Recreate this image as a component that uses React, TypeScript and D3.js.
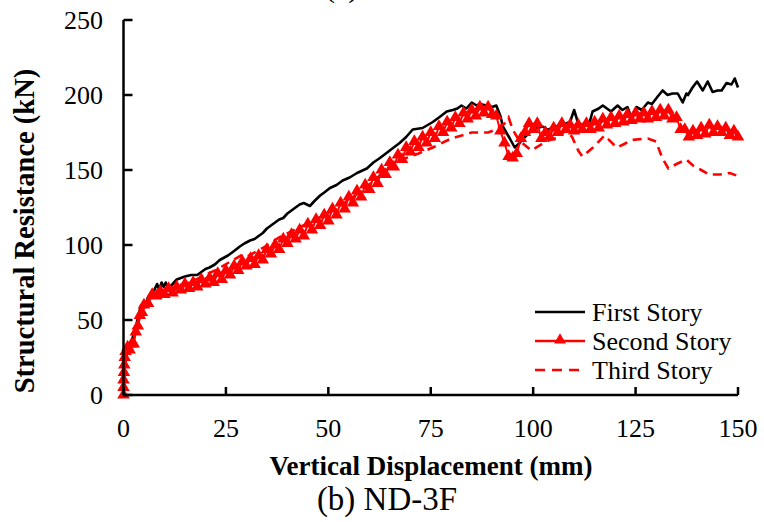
import React from "react";
import * as d3 from "d3";

const xTicks = [0, 25, 50, 75, 100, 125, 150];
const yTicks = [0, 50, 100, 150, 200, 250];

const seriesNames = ["First Story", "Second Story", "Third Story"];

const firstStory: [number, number][] = [
  [0, 0], [0.3, 20], [1, 30], [2, 36], [3, 45], [3.8, 55], [4.3, 60], [5, 58], [6, 65], [6.7, 68],
  [7.5, 70], [8.2, 74], [8.7, 70], [9.3, 75], [9.8, 72], [10.3, 75], [10.9, 71], [12, 74], [13, 77],
  [14, 78], [15, 79], [16.5, 80], [18, 80], [19, 82], [20, 84], [21, 85], [22.3, 87], [23.5, 90],
  [25.5, 93], [27, 96], [28.4, 99], [29.5, 101], [30.9, 103], [32, 104], [33, 106], [34, 108],
  [35, 111], [36, 113], [37, 115], [38, 117], [39, 118], [40, 121], [41, 123], [42, 125], [43, 127],
  [44, 128], [45.5, 126], [46.5, 129], [48, 133], [49, 135], [50.4, 138], [52, 140], [53.5, 143],
  [55.2, 145], [57, 148], [59.4, 151], [61, 155], [62.6, 158], [65, 163], [67.4, 168], [69, 172],
  [70.6, 177], [73, 178], [75.5, 182], [77, 185], [78.9, 189], [80.4, 190], [81.5, 191], [82.5, 193],
  [83.7, 191], [85, 195], [86.2, 193], [87, 194], [88.6, 193], [90, 192], [91, 193], [92, 186],
  [92.6, 179], [94.3, 171], [95.5, 165], [96.7, 168], [98, 172], [99.5, 176], [101, 178], [102.3, 179],
  [103.5, 177], [105, 178], [106.5, 180], [108, 181], [109, 182], [110, 190], [111, 181], [112, 180],
  [113.8, 182], [114.5, 189], [116, 191], [117, 193], [119, 189], [120.6, 193], [121.8, 190], [123, 192],
  [124, 185], [125.2, 192], [126.5, 190], [128, 195], [129, 194], [130.4, 199], [131.6, 203], [132.8, 200],
  [134, 201], [135.3, 201], [136.5, 195], [137.4, 201], [137.8, 200], [138.9, 205], [140, 209],
  [141.4, 203], [142.6, 209], [143.8, 202], [145, 203], [146, 203], [147.2, 208], [148.4, 207],
  [149.2, 211], [150, 205],
];

const secondStory: [number, number][] = [
  [0, 0], [0, 5], [0, 10], [0.1, 15], [0.2, 20], [0.3, 25], [0.5, 29], [1, 32], [1.5, 30], [2, 34],
  [2.5, 34], [3, 42], [3.5, 46], [4, 53], [4.5, 55], [5, 60], [6, 61], [7, 67], [8, 66], [9, 69],
  [10, 67], [11, 71], [12, 68], [13, 72], [14, 70], [15, 74], [16, 71], [17, 75], [18, 72], [19, 77],
  [20, 74], [21, 78], [22, 75], [23, 81], [24, 77], [25, 83], [26, 80], [27, 86], [28, 83], [29, 89],
  [30, 86], [31, 91], [32, 87], [33, 93], [34, 90], [35, 97], [36, 94], [37, 100], [38, 97], [39, 104],
  [40, 101], [41, 107], [42, 104], [43, 110], [44, 106], [45, 114], [46, 110], [47, 117], [48, 113],
  [49, 120], [50, 116], [51, 124], [52, 120], [53, 128], [54, 124], [55, 132], [56, 128], [57, 136],
  [58, 132], [59, 140], [60, 137], [61, 145], [62, 141], [63, 150], [64, 147], [65, 155], [66, 152],
  [67, 160], [68, 157], [69, 165], [70, 162], [71, 169], [72, 165], [73, 172], [74, 168], [75, 175],
  [76, 171], [77, 179], [78, 175], [79, 182], [80, 178], [81, 185], [82, 181], [83, 188], [84, 184],
  [85, 190], [86, 186], [87, 192], [88, 188], [89, 192], [90, 187], [91, 186], [92, 176], [93, 168],
  [94, 159], [95, 158], [96, 161], [97, 171], [98, 175], [99, 181], [100, 177], [101, 181], [102, 171],
  [103, 175], [104, 172], [105, 178], [106, 175], [107, 181], [108, 177], [109, 180], [110, 176],
  [111, 180], [112, 177], [113, 181], [114, 177], [115, 182], [116, 178], [117, 184], [118, 180],
  [119, 185], [120, 181], [121, 186], [122, 182], [123, 187], [124, 183], [125, 188], [126, 184],
  [127, 188], [128, 184], [129, 189], [130, 185], [131, 190], [132, 186], [133, 190], [134, 184],
  [135, 185], [136, 177], [137, 177], [138, 172], [139, 176], [140, 173], [141, 178], [142, 174],
  [143, 180], [144, 175], [145, 179], [146, 175], [147, 178], [148, 173], [149, 176], [150, 172],
];

const thirdStory: [number, number][] = [
  [0, 0], [0.3, 20], [1, 31], [2, 34], [3, 42], [4, 52], [5, 58], [7, 65], [10, 69], [13, 72],
  [16, 75], [20, 80], [23, 84], [25.5, 88], [28.7, 93], [30, 92], [34, 98], [38, 105], [42.3, 111],
  [47, 117], [51, 123], [55, 130], [60, 140], [64, 150], [68, 157], [72, 161], [75.5, 165], [80, 171],
  [85, 175], [89, 175], [91, 177], [93, 181], [94, 185], [95, 177], [96.5, 170], [99.5, 163],
  [102, 167], [104, 170], [106.5, 172], [108, 177], [109.5, 172], [111, 163], [112, 159], [114.6, 165],
  [117.4, 173], [120.4, 165], [122, 167], [124, 170], [128, 171], [130, 169], [131.5, 158], [133, 151],
  [135, 154], [137.4, 157], [139, 153], [141, 150], [143, 147], [145.5, 147], [148, 148], [150, 146],
];

const W = 764;
const H = 522;
const FONT = "'Liberation Serif', 'Times New Roman', serif";

export default function App() {
  const x = d3.scaleLinear().domain([0, 150]).range([123.5, 738]);
  const y = d3.scaleLinear().domain([0, 250]).range([395, 20]);
  const line = d3
    .line<[number, number]>()
    .x((d) => x(d[0]))
    .y((d) => y(d[1]));
  const tri = d3.symbol().type(d3.symbolTriangle).size(68)() as string;
  const legendTri = d3.symbol().type(d3.symbolTriangle).size(60)() as string;

  const legendX = 535;
  const legendY = [312, 341, 370];

  return (
    <svg
      width={W}
      height={H}
      style={{ position: "absolute", left: 0, top: 0, background: "#fff" }}
      fontFamily={FONT}
    >
      <rect x={0} y={0} width={W} height={H} fill="#fff" />
      <text x={325} y={-3} fontSize={30} fill="#000">(a)</text>

      {/* series */}
      <path d={line(firstStory) || ""} fill="none" stroke="#000" strokeWidth={2.6} strokeLinejoin="round" />
      <path d={line(secondStory) || ""} fill="none" stroke="#ff0000" strokeWidth={2} />
      {secondStory.map((d, i) => (
        <path key={i} d={tri} transform={`translate(${x(d[0])},${y(d[1])})`} fill="#ff0000" />
      ))}
      <path
        d={line(thirdStory) || ""}
        fill="none"
        stroke="#ff0000"
        strokeWidth={2.6}
        strokeDasharray="9,6"
      />

      {/* axes */}
      <line x1={x(0)} x2={x(0)} y1={y(250)} y2={y(0)} stroke="#000" strokeWidth={2.5} />
      <line x1={x(0)} x2={x(150)} y1={y(0)} y2={y(0)} stroke="#000" strokeWidth={2.5} />
      {yTicks.map((t) => (
        <g key={"y" + t}>
          <line x1={x(0)} x2={x(0) + 9} y1={y(t)} y2={y(t)} stroke="#000" strokeWidth={2.5} />
          <text x={103} y={y(t)} dy="0.33em" textAnchor="end" fontSize={26} fill="#000">
            {t}
          </text>
        </g>
      ))}
      {xTicks.map((t) => (
        <g key={"x" + t}>
          <line x1={x(t)} x2={x(t)} y1={y(0)} y2={y(0) - 8} stroke="#000" strokeWidth={2.5} />
          <text x={x(t)} y={437} textAnchor="middle" fontSize={26} fill="#000">
            {t}
          </text>
        </g>
      ))}

      {/* axis titles */}
      <text x={431} y={475} textAnchor="middle" fontSize={27} fontWeight="bold" fill="#000">
        Vertical Displacement (mm)
      </text>
      <text
        transform={`translate(34,231) rotate(-90)`}
        textAnchor="middle"
        fontSize={28.5}
        fontWeight="bold"
        fill="#000"
      >
        Structural Resistance (kN)
      </text>

      {/* caption */}
      <text x={387} y={510} textAnchor="middle" fontSize={33} fill="#000">
        (b) ND-3F
      </text>

      {/* legend */}
      <line x1={legendX} x2={legendX + 50} y1={legendY[0]} y2={legendY[0]} stroke="#000" strokeWidth={2.5} />
      <line x1={legendX} x2={legendX + 50} y1={legendY[1]} y2={legendY[1]} stroke="#ff0000" strokeWidth={2.5} />
      <path d={legendTri} transform={`translate(${legendX + 25},${legendY[1] - 1})`} fill="#ff0000" />
      <line
        x1={legendX}
        x2={legendX + 50}
        y1={legendY[2]}
        y2={legendY[2]}
        stroke="#ff0000"
        strokeWidth={2.5}
        strokeDasharray="10,7"
      />
      {seriesNames.map((s, i) => (
        <text key={s} x={legendX + 57} y={legendY[i]} dy="0.33em" fontSize={26} fill="#000">
          {s}
        </text>
      ))}
    </svg>
  );
}
